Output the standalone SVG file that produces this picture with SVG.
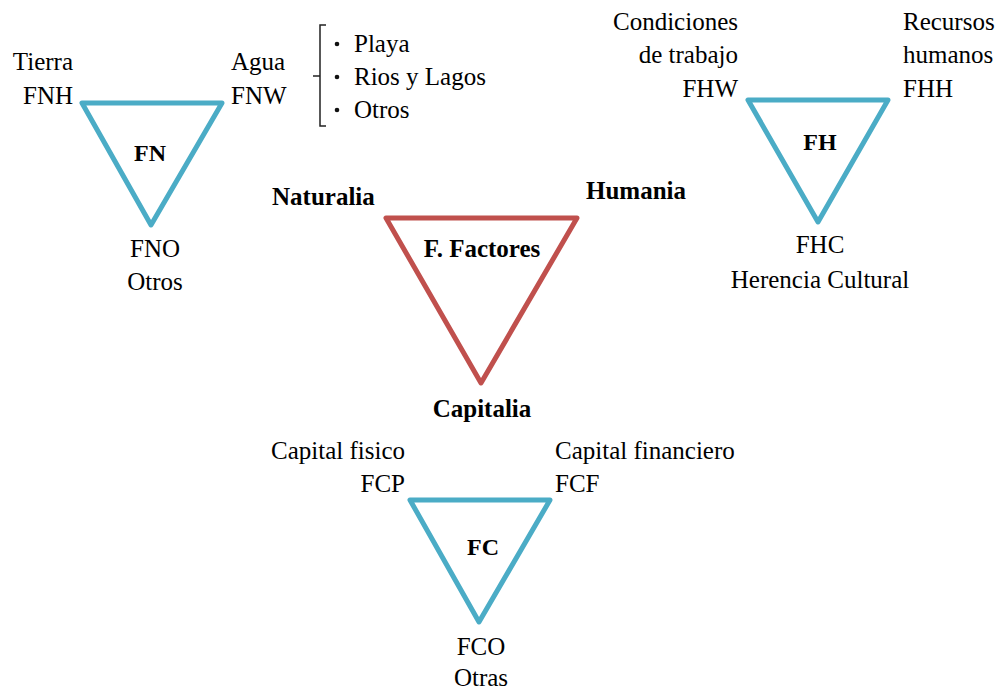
<svg xmlns="http://www.w3.org/2000/svg" width="1005" height="689" viewBox="0 0 1005 689">
<rect width="1005" height="689" fill="#fff"/>
<g id="FN">
<polygon points="82,103 222,103 151,225" fill="none" stroke="#4BACC6" stroke-width="5" stroke-linejoin="round"/>
<text font-family="Times New Roman, Liberation Serif, serif" font-size="24" font-weight="bold" text-anchor="middle" x="150" y="161">FN</text>
<text font-family="Times New Roman, Liberation Serif, serif" font-size="25" text-anchor="end" x="73" y="70">Tierra</text>
<text font-family="Times New Roman, Liberation Serif, serif" font-size="25" text-anchor="end" x="73" y="104">FNH</text>
<text font-family="Times New Roman, Liberation Serif, serif" font-size="25" x="231" y="70">Agua</text>
<text font-family="Times New Roman, Liberation Serif, serif" font-size="25" x="231" y="104">FNW</text>
<text font-family="Times New Roman, Liberation Serif, serif" font-size="25" text-anchor="middle" x="155" y="257">FNO</text>
<text font-family="Times New Roman, Liberation Serif, serif" font-size="25" text-anchor="middle" x="155" y="290">Otros</text>
</g>
<g id="FNW-list">
<path d="M326,25 H320 V126 H326 M320,76 H313" fill="none" stroke="#222" stroke-width="1.5"/>
<circle cx="337" cy="44" r="2.3" fill="#111"/>
<circle cx="337" cy="77" r="2.3" fill="#111"/>
<circle cx="337" cy="110" r="2.3" fill="#111"/>
<text font-family="Times New Roman, Liberation Serif, serif" font-size="25" x="354" y="52">Playa</text>
<text font-family="Times New Roman, Liberation Serif, serif" font-size="25" x="354" y="85">Rios y Lagos</text>
<text font-family="Times New Roman, Liberation Serif, serif" font-size="25" x="354" y="118">Otros</text>
</g>
<g id="FH">
<polygon points="748,100 888,100 818,222" fill="none" stroke="#4BACC6" stroke-width="5" stroke-linejoin="round"/>
<text font-family="Times New Roman, Liberation Serif, serif" font-size="24" font-weight="bold" text-anchor="middle" x="820" y="150">FH</text>
<text font-family="Times New Roman, Liberation Serif, serif" font-size="25" text-anchor="end" x="738" y="30">Condiciones</text>
<text font-family="Times New Roman, Liberation Serif, serif" font-size="25" text-anchor="end" x="738" y="63">de trabajo</text>
<text font-family="Times New Roman, Liberation Serif, serif" font-size="25" text-anchor="end" x="738" y="97">FHW</text>
<text font-family="Times New Roman, Liberation Serif, serif" font-size="25" x="903" y="30">Recursos</text>
<text font-family="Times New Roman, Liberation Serif, serif" font-size="25" x="903" y="63">humanos</text>
<text font-family="Times New Roman, Liberation Serif, serif" font-size="25" x="903" y="97">FHH</text>
<text font-family="Times New Roman, Liberation Serif, serif" font-size="25" text-anchor="middle" x="820" y="253">FHC</text>
<text font-family="Times New Roman, Liberation Serif, serif" font-size="25" text-anchor="middle" x="820" y="288">Herencia Cultural</text>
</g>
<g id="FF">
<polygon points="386,218 577,218 481,383" fill="none" stroke="#C0504D" stroke-width="5" stroke-linejoin="round"/>
<text font-family="Times New Roman, Liberation Serif, serif" font-size="25" font-weight="bold" text-anchor="middle" x="482" y="257">F. Factores</text>
<text font-family="Times New Roman, Liberation Serif, serif" font-size="25" font-weight="bold" x="272" y="205">Naturalia</text>
<text font-family="Times New Roman, Liberation Serif, serif" font-size="25" font-weight="bold" x="586" y="199">Humania</text>
<text font-family="Times New Roman, Liberation Serif, serif" font-size="25" font-weight="bold" text-anchor="middle" x="482" y="417">Capitalia</text>
</g>
<g id="FC">
<polygon points="410,500 550,500 479,622" fill="none" stroke="#4BACC6" stroke-width="5" stroke-linejoin="round"/>
<text font-family="Times New Roman, Liberation Serif, serif" font-size="24" font-weight="bold" text-anchor="middle" x="483" y="555">FC</text>
<text font-family="Times New Roman, Liberation Serif, serif" font-size="25" text-anchor="end" x="405" y="459">Capital fisico</text>
<text font-family="Times New Roman, Liberation Serif, serif" font-size="25" text-anchor="end" x="405" y="492">FCP</text>
<text font-family="Times New Roman, Liberation Serif, serif" font-size="25" x="555" y="459">Capital financiero</text>
<text font-family="Times New Roman, Liberation Serif, serif" font-size="25" x="555" y="492">FCF</text>
<text font-family="Times New Roman, Liberation Serif, serif" font-size="25" text-anchor="middle" x="481" y="655">FCO</text>
<text font-family="Times New Roman, Liberation Serif, serif" font-size="25" text-anchor="middle" x="481" y="686">Otras</text>
</g>
<g id="connectors"></g>
</svg>
